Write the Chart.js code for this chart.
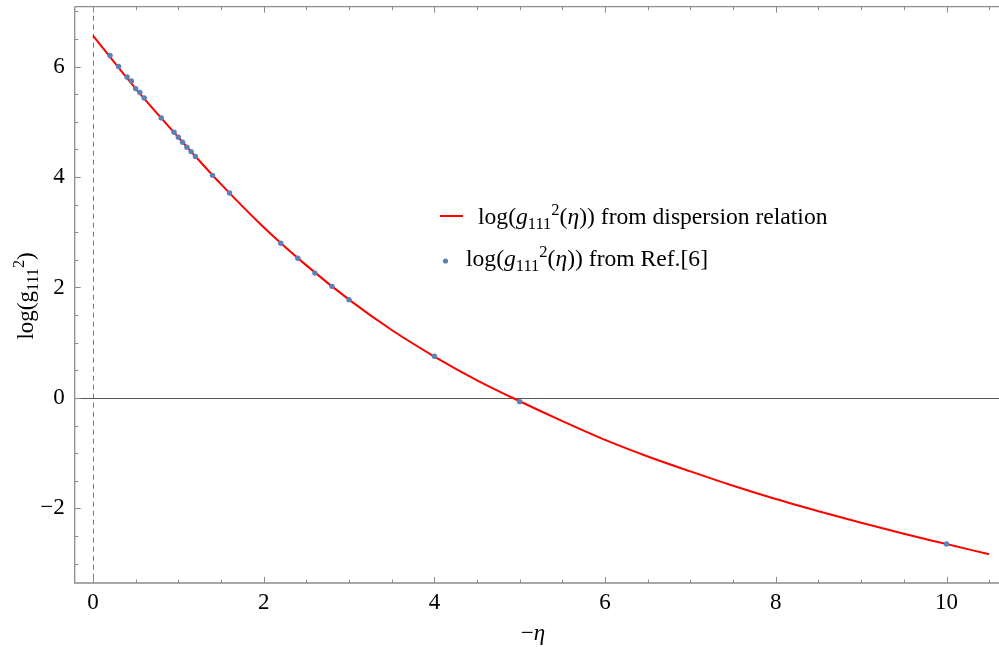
<!DOCTYPE html>
<html>
<head>
<meta charset="utf-8">
<script src="https://cdn.jsdelivr.net/npm/chart.js@4"></script>
<style>
  html, body { margin: 0; padding: 0; background: #fff; }
  canvas { display: block; }
</style>
</head>
<body>
<canvas id="ChartG111" width="999" height="647"></canvas>
<script>
// curva de la relacion de dispersion
const curveEta = [0, 0.5, 1, 1.5, 2, 2.5, 3, 3.5, 4, 4.5, 5, 5.5, 6, 6.5, 7, 7.5, 8, 8.5, 9, 9.5, 10, 10.5];
const curveLog = [6.56, 5.60, 4.72, 3.87, 3.09, 2.40, 1.78, 1.23, 0.75, 0.32, -0.06, -0.42, -0.76, -1.06, -1.33, -1.59, -1.83, -2.05, -2.26, -2.46, -2.645, -2.83];

// puntos de Ref.[6]
const refEta = [0.2, 0.3, 0.4, 0.45, 0.5, 0.55, 0.6, 0.8, 0.95, 1.0, 1.05, 1.1, 1.15, 1.2, 1.4, 1.6, 2.2, 2.4, 2.6, 2.8, 3.0, 4.0, 5.0, 10.0];
const refLog = [6.20, 6.00, 5.81, 5.74, 5.60, 5.53, 5.43, 5.07, 4.81, 4.72, 4.63, 4.54, 4.46, 4.37, 4.03, 3.71, 2.80, 2.53, 2.26, 2.02, 1.78, 0.755, -0.067, -2.645];

const xTickValues = [0, 2, 4, 6, 8, 10];
const yTickValues = [-2, 0, 2, 4, 6];

const SERIF = '"Liberation Serif", "Times New Roman", serif';
const FRAME = '#8c8c8c';
const FS = 23;
const LEG_FS = 23.6;

function fmt(v) {
    return v < 0 ? '\u2212' + Math.abs(v) : String(v);
}

// texto con cursiva, subindices y superindices
function richWidth(ctx, parts, size) {
    let w = 0;
    parts.forEach(p => {
        const s = (p.sub || p.sup) ? size * 0.7 : size;
        ctx.font = (p.it ? 'italic ' : '') + s + 'px ' + SERIF;
        w += ctx.measureText(p.t).width;
    });
    return w;
}

function drawRich(ctx, parts, x, y, size) {
    ctx.textBaseline = 'alphabetic';
    ctx.textAlign = 'left';
    parts.forEach(p => {
        const s = (p.sub || p.sup) ? size * 0.7 : size;
        ctx.font = (p.it ? 'italic ' : '') + s + 'px ' + SERIF;
        let dy = 0;
        if (p.sub) dy = size * 0.22;
        if (p.sup) dy = -size * 0.4;
        ctx.fillText(p.t, x, y + dy);
        x += ctx.measureText(p.t).width;
    });
}

const legendCurve = [
    {t: 'log('}, {t: 'g', it: true}, {t: '111', sub: true}, {t: '2', sup: true},
    {t: '('}, {t: '\u03B7', it: true}, {t: '))'}, {t: ' from dispersion relation'}
];
const legendRef = [
    {t: 'log('}, {t: 'g', it: true}, {t: '111', sub: true}, {t: '2', sup: true},
    {t: '('}, {t: '\u03B7', it: true}, {t: '))'}, {t: ' from Ref.[6]'}
];
const yTitle = [{t: 'log(g'}, {t: '111', sub: true}, {t: '2', sup: true}, {t: ')'}];
const xTitle = [{t: '\u2212'}, {t: '\u03B7', it: true}];

const framePlugin = {
    id: 'framePlugin',
    beforeDatasetsDraw(chart) {
        const {ctx, chartArea: a, scales: {x, y}} = chart;
        ctx.save();
        // eje vertical punteado en 0
        ctx.strokeStyle = '#777';
        ctx.lineWidth = 1;
        ctx.setLineDash([5, 4]);
        const x0 = Math.round(x.getPixelForValue(0)) + 0.5;
        ctx.beginPath();
        ctx.moveTo(x0, a.top);
        ctx.lineTo(x0, a.bottom);
        ctx.stroke();
        // linea horizontal en 0
        ctx.setLineDash([]);
        ctx.strokeStyle = '#555';
        const y0 = Math.round(y.getPixelForValue(0)) + 0.5;
        ctx.beginPath();
        ctx.moveTo(a.left, y0);
        ctx.lineTo(a.right, y0);
        ctx.stroke();
        ctx.restore();
    },
    afterDraw(chart) {
        const {ctx, chartArea: a, scales: {x, y}} = chart;
        ctx.save();
        ctx.strokeStyle = FRAME;
        ctx.lineWidth = 1.3;
        ctx.beginPath();
        ctx.moveTo(a.left, a.top);
        ctx.lineTo(a.right + 2, a.top);
        ctx.moveTo(a.left, a.top);
        ctx.lineTo(a.left, a.bottom);
        ctx.lineTo(a.right + 2, a.bottom);
        ctx.stroke();

        // marcas hacia dentro, cada 0.5
        ctx.lineWidth = 1;
        ctx.beginPath();
        for (let v = 0; v <= 10.5; v += 0.5) {
            const px = Math.round(x.getPixelForValue(v)) + 0.5;
            const len = (v % 2 === 0) ? 6 : 3.5;
            ctx.moveTo(px, a.bottom);
            ctx.lineTo(px, a.bottom - len);
            ctx.moveTo(px, a.top);
            ctx.lineTo(px, a.top + len);
        }
        for (let v = -3; v <= 7; v += 0.5) {
            const py = Math.round(y.getPixelForValue(v)) + 0.5;
            const len = (v % 2 === 0) ? 6 : 3.5;
            ctx.moveTo(a.left, py);
            ctx.lineTo(a.left + len, py);
        }
        ctx.stroke();

        ctx.fillStyle = '#000';
        // titulo eje x
        const xw = richWidth(ctx, xTitle, FS);
        drawRich(ctx, xTitle, 533 - xw / 2, 640, FS);

        // titulo eje y (girado)
        const yw = richWidth(ctx, yTitle, FS);
        ctx.save();
        ctx.translate(33, 296);
        ctx.rotate(-Math.PI / 2);
        drawRich(ctx, yTitle, -yw / 2, 0, FS);
        ctx.restore();

        // leyenda
        ctx.strokeStyle = '#ff0000';
        ctx.lineWidth = 2;
        ctx.beginPath();
        ctx.moveTo(440, 216);
        ctx.lineTo(463, 216);
        ctx.stroke();
        drawRich(ctx, legendCurve, 478, 224, LEG_FS);

        ctx.fillStyle = '#5E81B5';
        ctx.beginPath();
        ctx.arc(445.5, 261, 2.6, 0, Math.PI * 2);
        ctx.fill();
        ctx.fillStyle = '#000';
        drawRich(ctx, legendRef, 466, 266, LEG_FS);
        ctx.restore();
    }
};

const dataG111 = {
    datasets: [
        {
            label: 'Ref.[6]',
            data: refEta.map((v, i) => ({x: v, y: refLog[i]})),
            pointRadius: 2.7,
            pointBackgroundColor: '#5E81B5',
            pointBorderWidth: 0,
            showLine: false,
            order: 0
        },
        {
            label: 'dispersion relation',
            data: curveEta.map((v, i) => ({x: v, y: curveLog[i]})),
            borderColor: '#ff0000',
            borderWidth: 2,
            pointRadius: 0,
            showLine: true,
            cubicInterpolationMode: 'monotone',
            order: 1
        }
    ]
};

const configG111 = {
    type: 'scatter',
    data: dataG111,
    plugins: [framePlugin],
    options: {
        responsive: false,
        animation: false,
        devicePixelRatio: 1,
        layout: {
            autoPadding: false,
            padding: {top: 6.7, left: 0, right: 0, bottom: 0}
        },
        plugins: {
            legend: {display: false},
            tooltip: {enabled: false}
        },
        scales: {
            x: {
                type: 'linear',
                min: -0.214,
                max: 10.615,
                grid: {display: false, drawTicks: false},
                border: {display: false},
                afterBuildTicks: s => { s.ticks = xTickValues.map(v => ({value: v})); },
                afterFit: s => { s.height = 64; s.paddingLeft = 0; s.paddingRight = 0; },
                ticks: {
                    padding: 6,
                    color: '#000',
                    font: {family: SERIF, size: FS},
                    maxRotation: 0,
                    callback: v => fmt(v)
                }
            },
            y: {
                type: 'linear',
                min: -3.35,
                max: 7.083,
                grid: {display: false, drawTicks: false},
                border: {display: false},
                afterBuildTicks: s => { s.ticks = yTickValues.map(v => ({value: v})); },
                afterFit: s => { s.width = 74.7; s.paddingTop = 0; s.paddingBottom = 0; },
                ticks: {
                    padding: 10,
                    color: '#000',
                    font: {family: SERIF, size: FS},
                    callback: v => fmt(v)
                }
            }
        }
    }
};

const chartG111 = new Chart(document.getElementById('ChartG111'), configG111);
</script>
</body>
</html>
